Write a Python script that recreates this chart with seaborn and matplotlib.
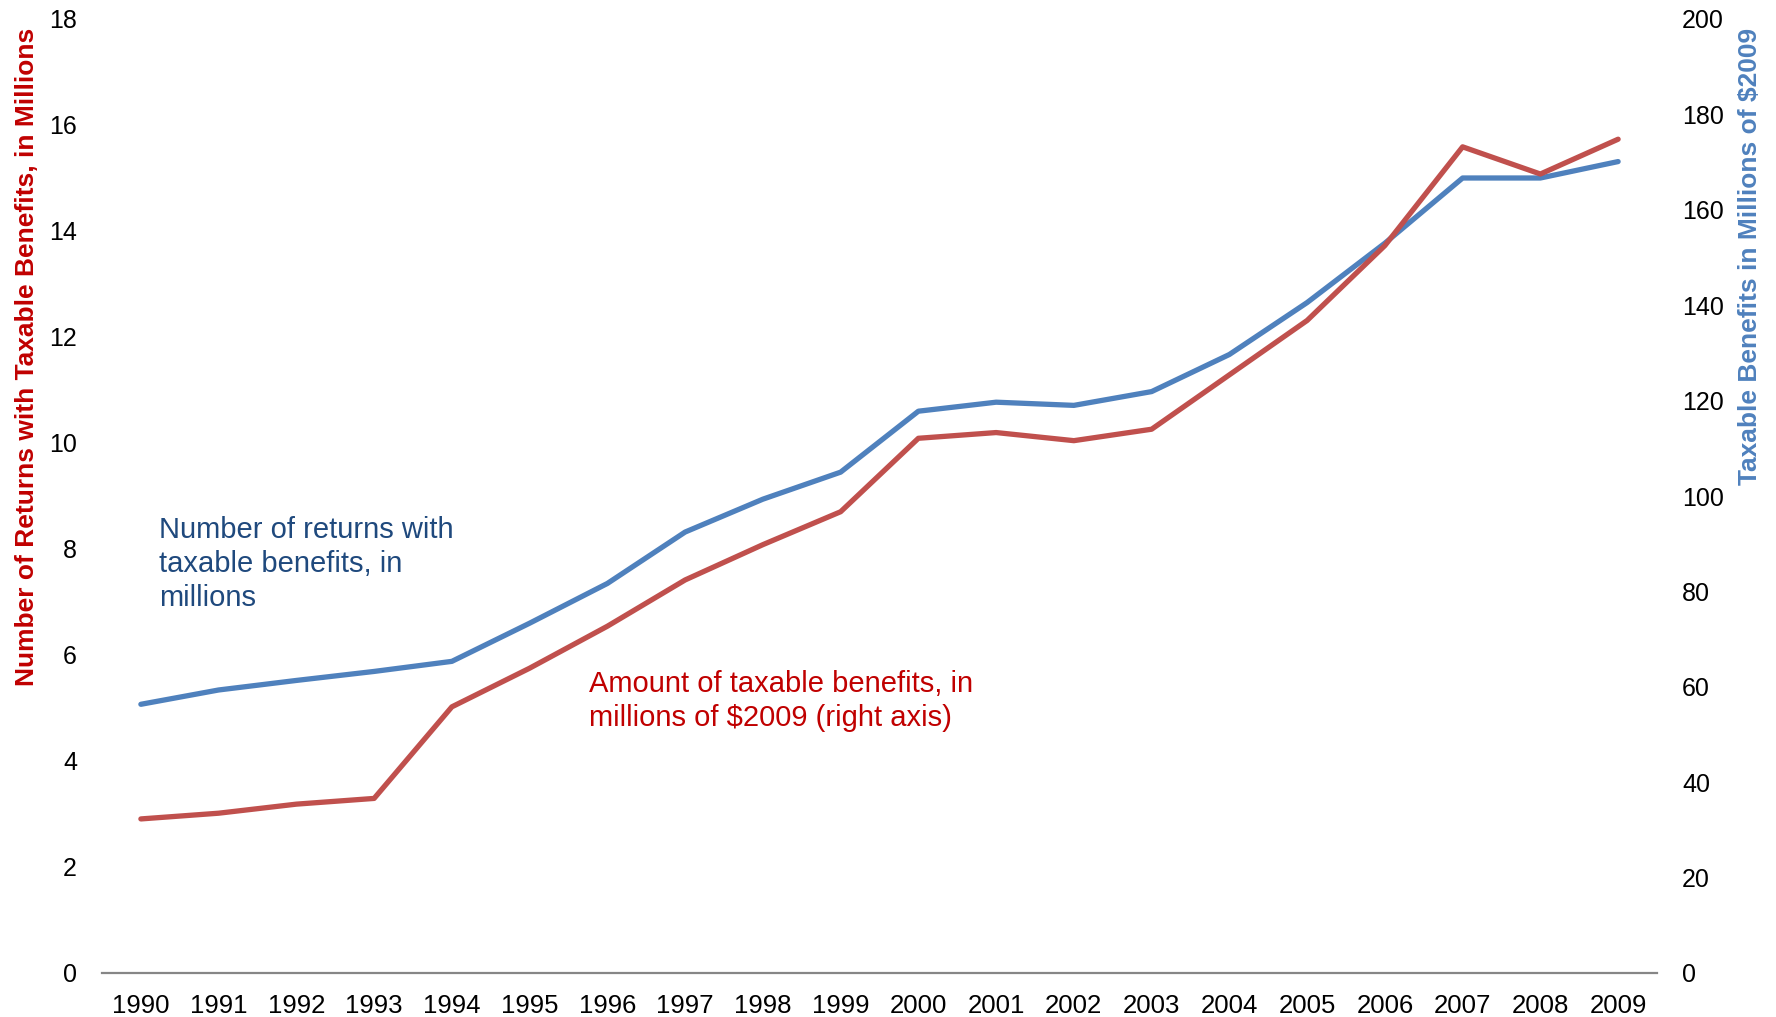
import matplotlib
matplotlib.use("Agg")
import matplotlib.pyplot as plt
import seaborn as sns
import pandas as pd

# Taxable Social Security benefits, 1990-2009
years = list(range(1990, 2010))
returns_millions = [5.07, 5.34, 5.52, 5.69, 5.88, 6.60, 7.35, 8.32, 8.94, 9.45,
                    10.60, 10.77, 10.71, 10.97, 11.67, 12.65, 13.77, 15.00, 15.00, 15.31]
benefits_millions_2009 = [32.3, 33.5, 35.4, 36.6, 55.8, 63.9, 72.7, 82.4, 89.8, 96.7,
                          112.1, 113.3, 111.6, 114.0, 125.4, 136.8, 152.5, 173.2, 167.5, 174.8]

left_ticks = list(range(0, 19, 2))
right_ticks = list(range(0, 201, 20))

left_label = "Number of Returns with Taxable Benefits, in Millions"
right_label = "Taxable Benefits in Millions of $2009"
returns_note = "Number of returns with\ntaxable benefits, in\nmillions"
benefits_note = "Amount of taxable benefits, in\nmillions of $2009 (right axis)"

BLUE = "#4F81BD"
RED = "#C0504D"
NOTE_BLUE = "#1F497D"
NOTE_RED = "#C00000"

sns.set_theme(style="white")
plt.rcParams["font.family"] = ["Liberation Sans", "DejaVu Sans"]

df = pd.DataFrame({"year": years, "returns": returns_millions,
                   "benefits": benefits_millions_2009})

fig = plt.figure(figsize=(17.76, 10.17), dpi=100)
ax = fig.add_axes([102 / 1776, 1 - 973 / 1017, (1657 - 102) / 1776, (973 - 19) / 1017])
ax2 = ax.twinx()

sns.lineplot(data=df, x="year", y="returns", ax=ax, color=BLUE, linewidth=3.8)
sns.lineplot(data=df, x="year", y="benefits", ax=ax2, color=RED, linewidth=3.8)

ax.set_xlim(1989.5, 2009.5)
ax.set_ylim(0, 18)
ax2.set_ylim(0, 200)
ax.set_xticks(years)
ax.set_xticklabels([str(y) for y in years])
ax.set_yticks(left_ticks)
ax2.set_yticks(right_ticks)
ax.set_xlabel("")
ax.set_ylabel("")
ax2.set_ylabel("")

for a in (ax, ax2):
    for side in ("top", "left", "right", "bottom"):
        a.spines[side].set_visible(False)
    a.grid(False)
ax.spines["bottom"].set_visible(True)
ax.spines["bottom"].set_color("#868686")
ax.spines["bottom"].set_linewidth(1.6)

ax.tick_params(axis="x", length=0, pad=15, labelsize=18.5, colors="black")
ax.tick_params(axis="y", length=0, pad=18, labelsize=18, colors="black")
ax2.tick_params(axis="y", length=0, pad=18, labelsize=18, colors="black")

fig.text(27 / 1776, 1 - 28 / 1017, left_label, rotation=90, ha="center", va="top",
         fontsize=19, fontweight="bold", color=NOTE_RED)
fig.text(1750 / 1776, 1 - 28 / 1017, right_label, rotation=90, ha="center", va="top",
         fontsize=19, fontweight="bold", color=BLUE)

# multi-line notes: baseline alignment refers to the last line
ax.text(1990.23, 6.93, returns_note, ha="left", va="baseline", fontsize=21,
        color=NOTE_BLUE, linespacing=1.27)
ax2.text(1995.77, 51.8, benefits_note, ha="left", va="baseline", fontsize=21,
         color=NOTE_RED, linespacing=1.27)

fig.savefig("out.png", dpi=100)
